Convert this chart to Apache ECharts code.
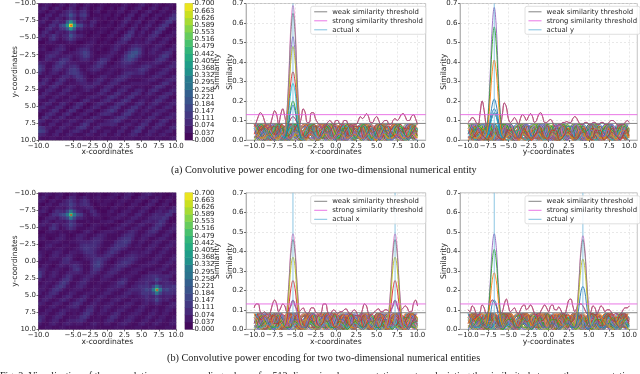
<!DOCTYPE html>
<html><head><meta charset="utf-8">
<style>html,body{margin:0;padding:0;background:#fff}#c{width:640px;height:374px}</style>
<script src="https://cdn.jsdelivr.net/npm/echarts@6/dist/echarts.min.js"></script>
</head><body><div id="c"></div>
<script>
// ---- data: similarity values, in hundredths ----
const coordTicks=[-10,-7.5,-5,-2.5,0,2.5,5,7.5,10];
const similarityTicks=[0,0.1,0.2,0.3,0.4,0.5,0.6,0.7];
const colorbarTicks=[0,0.037,0.074,0.111,0.147,0.184,0.221,0.258,0.295,0.332,0.368,0.405,0.442,0.479,0.516,0.553,0.589,0.626,0.663,0.7];
const weakThreshold=0.085, strongThreshold=0.13;
const actualA=[-5.25,-6.75];
const actualBX=[-5.25,7.25];
const actualBY=[-6.75,4.25];

const heatA=[
[3,4,5,4,2,3,5,4,2,5,6,3,2,4,5,3,2,3,4,3,2,3,3,2,4,5,3,2,3,5,6,3,2,4,5,3,2,3,4,3],
[4,6,5,2,4,6,4,2,4,7,5,2,4,6,4,2,3,5,4,2,3,4,2,4,6,4,2,3,5,6,3,2,4,6,4,2,4,5,3,2],
[5,4,2,4,5,3,3,5,7,9,6,4,7,8,4,2,4,5,2,2,4,3,3,5,5,2,3,5,5,2,3,5,6,3,2,4,5,3,3,5],
[3,2,5,6,3,3,6,6,8,14,9,5,9,10,5,2,3,3,3,4,4,2,4,4,2,3,6,6,2,3,6,5,2,3,5,5,3,3,5,8],
[3,5,6,3,3,6,5,3,6,10,7,3,6,7,3,3,5,4,3,4,2,3,4,2,3,6,7,3,2,5,5,2,3,5,5,2,3,5,9,9],
[5,6,3,3,6,7,5,5,22,36,22,5,6,4,3,6,6,3,3,2,3,4,2,3,5,7,4,3,5,6,2,3,5,5,2,3,5,9,9,4],
[4,3,3,7,8,5,11,14,36,68,36,13,12,6,4,7,4,2,3,3,4,3,2,4,6,4,2,4,6,3,3,5,6,3,3,6,9,8,3,2],
[2,3,6,8,5,4,8,9,22,36,22,6,7,4,3,4,3,3,4,4,3,2,4,5,4,2,4,7,5,2,5,6,3,3,6,9,8,3,2,3],
[3,6,7,4,3,6,5,4,6,9,7,3,4,3,3,2,3,4,4,3,2,4,5,3,2,4,8,8,3,4,6,3,3,6,9,7,3,2,3,5],
[5,7,4,6,9,6,4,6,7,14,9,6,6,4,2,3,4,4,2,2,4,5,3,2,4,8,10,6,3,5,4,3,6,8,7,3,2,4,5,4],
[5,3,3,7,9,5,3,5,7,10,7,4,4,3,3,4,4,3,2,3,4,3,2,4,7,9,7,3,4,4,3,5,7,6,3,3,5,6,4,2],
[2,2,4,5,4,3,3,3,4,5,4,2,2,3,4,5,4,2,3,4,3,2,4,6,7,6,3,3,5,4,4,6,5,3,3,5,6,4,2,3],
[3,4,3,3,3,4,6,5,3,3,3,3,4,5,6,5,3,3,4,3,3,4,6,6,4,3,4,6,7,6,5,4,3,4,6,6,4,2,3,5],
[4,5,3,2,4,6,7,6,3,2,3,5,7,8,7,4,3,4,3,2,3,5,7,5,3,3,6,9,11,9,5,3,4,6,6,4,3,4,6,5],
[3,3,4,5,6,7,5,3,3,4,5,6,8,11,9,5,3,2,3,3,4,6,5,3,3,6,10,13,14,10,5,3,5,6,4,4,6,8,7,3],
[2,3,6,8,7,5,4,5,6,6,4,5,7,10,9,5,3,3,4,5,6,5,3,3,5,9,13,14,11,7,4,3,4,4,4,7,10,9,5,2],
[3,4,7,6,4,4,7,9,8,5,3,4,6,7,6,4,3,5,8,8,6,3,2,4,7,10,12,10,7,4,3,3,3,4,7,9,8,5,3,3],
[6,5,4,3,4,7,10,9,6,5,5,4,4,4,4,3,5,8,9,7,3,2,4,5,7,8,8,6,4,3,4,5,5,6,7,6,4,3,4,6],
[9,7,3,3,6,9,9,6,5,7,8,6,3,3,4,5,7,9,7,4,3,4,5,5,6,6,5,4,4,5,7,8,7,5,4,3,3,5,7,6],
[10,7,3,4,7,8,6,4,6,9,10,8,4,3,5,6,7,6,4,3,4,5,4,3,4,5,5,5,6,8,9,7,4,3,3,4,6,7,5,3],
[7,4,3,5,6,5,3,4,7,9,10,9,6,4,3,4,4,3,3,4,5,4,3,3,5,7,8,7,6,7,7,4,3,3,5,7,7,5,3,3],
[3,3,5,5,3,3,5,7,7,5,7,9,8,5,3,2,3,4,6,6,4,3,4,6,8,8,6,4,4,4,4,3,4,6,7,6,4,3,4,6],
[3,6,7,4,2,5,8,7,4,3,4,7,8,6,3,3,5,7,7,4,3,5,7,8,7,5,3,3,3,3,4,5,6,6,4,3,4,6,7,6],
[6,8,5,3,5,8,7,4,3,4,4,5,6,6,5,5,7,7,4,3,5,7,7,5,3,3,4,5,5,5,5,5,4,3,3,5,8,8,5,3],
[6,4,3,6,8,6,3,3,5,6,5,3,4,6,7,7,5,3,3,6,7,6,3,3,5,6,6,4,3,4,4,3,3,5,8,8,6,3,3,4],
[3,3,6,7,5,3,3,6,7,5,3,3,4,5,6,4,3,3,6,8,6,3,3,6,7,6,3,3,6,7,5,3,6,8,7,4,3,3,5,6],
[3,6,6,4,3,4,6,6,4,3,4,5,4,3,3,3,4,6,7,5,3,4,7,8,5,3,4,7,8,6,3,5,7,5,3,3,5,7,7,4],
[6,6,3,3,5,6,4,3,3,5,6,4,3,3,5,6,6,5,3,4,7,9,7,4,3,5,8,8,4,3,4,5,4,3,4,7,8,6,3,2],
[4,3,3,6,6,3,3,4,5,5,3,2,4,7,7,4,3,3,5,7,8,5,3,4,7,9,7,3,3,5,6,4,3,5,8,8,5,3,3,5],
[3,5,7,6,3,3,6,7,4,2,4,7,8,5,2,3,5,7,7,5,3,3,6,8,8,5,3,3,6,8,6,3,5,7,7,4,3,4,6,6],
[6,7,4,3,4,7,7,4,2,4,7,8,5,2,3,5,7,6,3,3,5,7,9,7,3,3,5,8,9,5,3,5,7,5,3,3,5,7,6,3],
[5,3,3,5,8,7,3,2,5,8,7,3,2,4,6,6,3,2,4,6,8,10,7,3,3,6,9,9,5,3,5,6,4,3,5,6,6,4,3,3],
[2,3,6,8,6,3,3,6,8,5,2,3,5,6,4,2,3,5,7,8,7,5,3,3,6,9,9,5,3,4,5,3,3,6,7,5,3,3,5,6],
[3,7,8,5,3,4,7,6,3,3,4,6,5,3,3,5,7,6,4,3,3,4,6,8,9,7,4,3,4,5,3,4,7,7,4,3,4,6,7,5],
[7,6,3,3,5,6,4,3,4,6,6,4,3,5,7,7,4,3,3,5,6,7,9,8,5,3,3,5,5,3,5,7,6,3,3,6,8,6,3,3],
[5,3,3,6,6,3,3,5,6,5,3,3,6,9,7,3,3,5,6,6,6,7,6,3,3,5,6,4,3,5,8,7,3,3,6,8,6,3,3,5],
[9,8,5,5,3,3,6,6,4,3,4,7,9,8,4,3,6,7,4,3,3,4,3,3,6,6,3,3,6,9,7,3,3,6,7,5,3,3,6,7],
[11,10,6,3,3,6,6,3,3,5,7,7,5,3,3,6,6,3,3,5,5,3,3,6,6,3,3,6,9,8,3,3,6,6,4,3,4,6,6,3],
[7,6,4,3,5,6,3,3,5,6,4,3,3,4,6,5,3,3,5,6,3,3,5,6,3,3,5,7,6,3,3,5,6,4,3,5,6,4,3,3],
[4,3,3,4,4,3,3,4,4,3,3,4,4,3,3,3,3,4,4,3,3,4,4,3,3,4,4,4,3,3,4,4,3,3,4,4,3,3,4,5]];

const heatB=[
[3,4,5,4,3,4,5,3,2,4,5,3,2,3,4,3,3,4,3,2,3,4,5,4,3,5,6,4,2,3,5,6,6,4,3,4,3,2,3,4],
[4,6,4,2,3,5,4,2,4,7,6,3,4,6,4,3,4,5,3,3,4,5,4,2,4,6,5,2,3,5,6,5,3,3,5,4,2,3,4,3],
[5,4,2,4,5,3,3,5,7,9,6,4,6,8,6,3,3,4,3,4,4,3,3,4,5,4,3,3,5,5,3,2,4,6,5,2,3,5,4,2],
[3,2,4,5,3,3,6,6,7,11,8,5,7,8,7,4,2,3,4,4,3,2,4,5,4,2,3,5,5,3,2,4,6,5,2,3,5,5,2,3],
[3,5,5,3,3,5,5,4,6,9,6,4,5,5,6,6,3,2,3,3,2,4,5,3,3,3,5,5,3,3,5,6,4,2,3,5,5,3,4,6],
[5,6,4,2,5,8,7,6,16,28,16,6,5,3,4,7,6,3,2,2,4,5,3,2,4,5,5,3,3,5,6,4,2,3,5,6,4,5,8,7],
[4,3,2,5,8,8,11,13,28,48,28,12,10,5,3,5,7,5,3,3,4,3,3,5,6,5,3,3,6,7,4,3,4,6,7,6,6,9,8,3],
[2,3,5,6,6,4,7,8,16,28,16,6,6,4,3,3,4,4,3,2,3,4,5,5,4,3,4,6,6,4,3,4,6,7,7,7,9,7,3,2],
[3,5,6,4,3,5,5,4,6,9,7,3,3,3,4,3,3,3,4,4,5,5,3,2,3,5,6,5,3,3,5,6,6,5,6,9,8,4,2,3],
[5,6,4,5,8,6,4,6,7,11,8,5,5,3,2,4,5,4,3,4,3,2,3,4,6,6,4,3,4,6,6,4,3,5,8,9,6,3,3,5],
[4,3,3,7,9,6,3,4,6,8,6,3,3,3,4,5,4,3,2,2,3,4,5,6,5,3,3,5,6,5,3,3,5,8,9,6,3,3,5,6],
[2,2,4,5,4,3,4,3,3,4,3,2,3,5,6,4,2,3,4,5,5,5,4,3,3,4,6,7,5,3,3,5,7,8,6,3,3,5,6,4],
[3,4,3,3,3,3,5,5,3,2,3,5,6,5,3,3,4,6,6,5,3,3,3,3,5,7,8,7,4,3,5,6,6,5,3,3,5,6,4,2],
[4,5,3,2,3,5,6,5,3,3,4,6,6,4,3,5,7,7,6,4,3,3,3,6,8,9,9,6,3,4,6,5,3,3,4,6,6,4,3,3],
[3,3,4,4,5,5,4,3,3,4,4,5,6,6,6,7,8,7,5,3,3,3,6,8,9,10,8,4,3,5,5,3,3,5,6,5,3,3,5,5],
[2,3,5,6,4,3,3,4,4,3,3,4,7,8,8,8,8,6,4,3,3,5,8,9,9,8,5,3,4,5,3,3,5,6,5,3,3,5,6,4],
[3,4,5,4,3,4,5,4,3,3,4,5,7,9,9,8,7,5,3,3,5,8,9,8,6,5,3,3,4,4,3,5,6,5,3,3,5,6,4,3],
[5,4,3,3,5,6,5,3,3,5,5,4,5,7,8,8,6,4,3,5,7,9,7,5,3,3,4,5,5,4,5,6,5,3,3,5,6,4,3,3],
[6,4,2,4,6,6,4,4,6,6,4,3,3,5,6,7,7,5,5,7,8,6,4,3,3,5,6,7,6,5,5,4,3,3,5,6,4,3,3,5],
[5,3,3,5,5,4,4,7,8,6,3,2,3,4,5,6,8,9,8,7,5,3,3,5,6,7,8,8,6,4,3,3,3,5,6,5,3,3,5,6],
[3,3,4,4,3,3,5,7,7,5,5,5,4,3,3,6,9,11,8,5,3,2,4,6,8,9,8,6,4,3,3,4,5,6,5,3,3,5,6,4],
[3,5,5,3,2,4,6,5,4,6,8,7,5,3,3,6,10,11,7,4,3,4,6,8,8,7,5,3,3,4,5,5,5,4,3,3,5,6,4,3],
[6,6,4,3,4,5,4,3,3,5,8,9,6,3,3,6,9,8,5,3,4,6,7,7,5,3,3,4,5,5,4,3,3,3,4,5,6,4,3,4],
[9,6,3,4,6,5,3,3,5,6,6,6,5,3,4,7,7,5,3,4,6,7,6,4,3,3,4,5,5,3,2,3,5,5,5,5,3,3,5,5],
[10,5,3,5,6,4,3,5,8,7,4,3,4,5,6,6,4,3,4,6,6,5,3,3,4,5,5,4,3,3,5,6,7,8,8,6,6,7,6,3],
[5,3,4,5,4,3,5,8,9,6,3,3,5,7,6,4,3,3,5,5,4,3,3,5,7,7,4,3,3,5,6,7,7,8,12,8,6,6,4,3],
[3,4,5,4,3,5,8,10,7,3,3,5,7,7,4,3,3,4,4,3,3,4,5,8,9,6,3,3,5,6,6,8,6,5,8,5,6,7,6,5],
[4,5,4,3,5,8,10,8,4,3,4,6,7,5,3,3,4,4,3,3,4,5,6,7,6,4,3,5,6,8,8,9,7,16,28,16,7,8,8,9],
[5,5,3,5,8,9,7,4,3,4,5,5,5,3,3,4,5,4,3,4,6,6,5,4,3,4,6,7,7,7,9,12,10,28,49,28,10,12,9,8],
[5,3,4,7,8,6,3,3,4,6,5,3,3,4,5,5,4,3,4,6,6,4,3,3,4,6,7,5,5,6,9,9,8,16,28,16,7,8,8,7],
[3,4,6,7,5,3,3,5,7,6,3,3,5,7,5,3,3,5,6,5,3,3,4,5,6,6,4,3,4,5,6,8,6,6,9,6,5,6,6,4],
[4,6,6,4,3,4,6,7,5,3,4,6,8,6,3,3,5,6,4,3,3,5,6,6,4,3,3,5,5,4,5,7,6,7,12,7,5,6,4,3],
[6,5,3,3,5,6,5,3,3,5,7,8,6,3,3,5,6,4,3,4,5,6,4,3,3,5,6,5,3,3,5,6,4,5,7,5,3,3,5,6],
[4,3,3,5,6,4,3,3,5,6,7,6,3,3,6,7,5,3,4,6,6,4,3,4,5,6,5,3,3,5,6,4,3,3,4,3,3,5,6,5],
[3,3,5,5,3,3,5,6,5,4,4,4,3,5,8,8,4,3,5,6,4,3,4,6,6,4,3,3,5,6,5,3,3,5,5,3,4,6,5,3],
[4,5,5,3,3,5,7,6,3,3,4,3,5,8,9,6,3,4,5,4,3,5,7,6,3,3,4,5,6,5,3,3,5,6,4,3,5,5,3,3],
[7,6,3,3,5,7,6,3,3,4,4,5,8,9,6,3,3,4,3,3,5,8,7,4,3,4,6,6,4,3,3,5,6,4,3,5,5,3,3,4],
[8,5,3,4,6,6,3,3,5,6,6,7,8,6,3,3,4,4,3,5,7,7,4,3,4,6,7,5,3,3,5,6,4,3,5,6,4,3,4,5],
[5,3,3,5,6,4,3,5,6,5,4,5,5,3,3,5,6,4,3,5,5,3,3,5,6,6,4,3,3,5,6,4,3,5,6,4,3,3,5,5],
[3,3,4,4,3,3,4,4,3,3,3,3,3,3,4,4,4,3,3,3,3,3,4,4,4,3,3,3,4,4,3,3,4,4,3,3,3,4,4,3]];

// low-level curves that form the dense band (samples every 0.5)
const fillers=[
[6,2,0,4,7,3,0,2,6,5,1,0,5,7,2,0,3,7,5,1,1,6,6,2,0,4,7,3,0,3,6,5,1,1,5,7,3,0,3,6,4],
[3,7,4,0,2,7,6,1,1,5,8,3,0,3,7,6,1,1,5,7,3,0,3,7,5,1,1,6,7,2,0,3,7,5,1,2,6,6,1,1,5],
[8,4,0,3,8,4,0,4,8,2,1,6,7,1,1,7,6,0,3,8,3,0,5,8,2,1,7,6,0,3,8,4,0,5,7,1,2,8,5,0,6],
[1,5,8,3,0,5,8,2,0,7,6,0,3,8,3,0,6,7,1,2,7,5,0,4,8,2,1,7,5,0,5,8,2,1,7,5,0,4,7,3,1],
[2,0,3,5,2,0,2,5,3,0,1,4,5,1,0,3,5,2,0,2,5,3,0,1,5,4,0,1,4,5,1,0,3,5,2,0,2,5,3,0,3],
[4,3,0,1,4,4,1,0,3,5,2,0,2,5,3,0,1,4,4,1,0,3,5,2,0,3,5,1,0,2,5,3,0,2,5,3,0,1,4,4,2],
[5,1,1,6,3,0,4,5,0,2,6,2,0,5,4,0,2,6,2,1,5,4,0,3,6,1,1,5,4,0,3,6,1,1,6,3,0,4,5,1,2],
[7,8,3,1,6,8,2,1,6,8,3,0,5,8,4,0,4,8,5,1,2,7,7,1,1,6,8,3,0,5,8,4,0,4,8,5,0,3,8,6,3],
[0,3,6,2,0,4,6,1,0,5,5,1,1,6,3,0,3,6,2,0,5,5,0,2,6,3,0,3,6,2,0,5,5,0,2,6,3,0,4,6,1],
[2,1,2,3,1,1,3,2,1,2,3,1,1,3,2,0,2,3,1,1,3,2,1,2,3,1,1,3,2,0,2,3,1,1,3,2,1,2,3,1,0],
[6,8,5,2,4,8,7,2,3,8,7,1,2,7,8,3,1,6,8,4,1,5,8,5,1,4,8,6,1,3,8,7,2,2,7,8,3,1,6,8,5],
[8,5,7,8,3,3,8,6,1,5,8,4,1,6,8,2,3,8,6,1,5,8,3,2,7,7,1,4,8,5,1,6,8,3,2,8,6,1,4,8,6],
[1,2,4,2,1,3,4,1,1,4,3,1,2,4,2,1,3,4,1,1,4,3,0,2,4,2,1,3,4,1,1,4,3,0,2,4,2,1,3,4,2],
[3,6,7,5,7,6,3,6,8,7,4,6,8,5,4,7,8,4,5,8,7,3,6,8,5,4,7,8,4,5,8,7,3,6,8,5,4,7,8,4,3]];
const fillerStarts=[-10,-9.875,-9.75,-9.625];

// upper envelope of the side lobes (x from -10 to 10, every 0.25)
const envelopeAX=[7,9,12,14,13,10,7,6,8,12,15,13,8,13,16,12,8,9,11,12,11,9,8,11,16,14,9,9,14,14,11,9,8,6,7,8,9,10,9,8,10,10,8,8,10,10,8,7,7,8,8,10,12,11,12,13.5,12,9,9,11,12,10,8,9,10,10,8,8,10,11,10,11,13,13.5,12,10,10,12,13,11,8];
const envelopeAY=[9,10,11.5,11,9,8,14,20,15,8,7,9,12,14,12,9,8,13,19,17,11,9,10,11.5,10,8,11,13,12,10,12,13.5,12,9,10,13,14,12,9,9,10,10.5,9,7,7,8,8,9,9,9.5,9,9,11,12,11,9,8,8,9,9,8,8,9,9,8,8,9,9,8,8,9,10,10,9,8,7,8,8,9,10,9];
const envelopeBX=[11,13,13,9,8,9,8,7,9,13,15,13,9,11,13,12,9,10,12,15,12,10,9,10,11,9,8,9,11,11,9,8,7,9,13,13,9,7,9,10,9,8,9,9,10,10.5,9,8,9,10,9,7,7,10,13,12,8,7,8,9,10,10.5,9,9,10,10,9,10,12,15,12,10,10,11,12,11,9,9,13,15,12];
const envelopeBY=[10,9,12,11,8,7,9,12.5,11,8,9,13,15,14,12,9,8,9,13,15.5,12,9,10,11,9,8,10,12,12.5,10,11,12.5,11,8,7,7,9,11,12.5,11,9,12,12.5,10,10,11.5,10,8,8,11,15,15.5,12,9,11,13,13,12,10,8,7,9,12,11,8,10,12,11,9,10,10,9,7,8,8,7,8,10,11,11,12];

// main peaks: values at centre-1 ... centre+1, every 0.25
const peaksAX=[[3,14,34,59,69,59,34,14,3],[3,13,32,55,65,55,32,13,3],[2,11,27,45,53,45,27,11,2],[2,10,24,41,48,41,24,10,2],[2,7,18,30,35,30,18,7,2],[1,6,15,25,29,25,15,6,1],[1,4,10,17,20,17,10,4,1],[1,4,9,15,18,15,9,4,1]];
const peaksAY=[[3,14,34,58,68,58,34,14,3],[3,12,29,49,58,49,29,12,3],[2,8,21,35,41,35,21,8,2],[1,4,11,18,21,18,11,4,1],[1,3,8,14,16,14,8,3,1],[1,3,7,12,14,12,7,3,1]];
const peaksBX=[[3,10,24,42,49,42,24,10,3],[2,9,23,39,46,39,23,9,2],[2,7,18,32,37,32,18,7,2],[1,5,12,21,25,21,12,5,1],[1,3,8,13,15,13,8,3,1]];
const peaksBY1=[[3,10,24,42,49,42,24,10,3],[2,8,21,35,41,35,21,8,2],[1,6,15,25,29,25,15,6,1],[1,3,7,13,15,13,7,3,1]];
const peaksBY2=[[3,10,24,41,48,41,24,10,3],[2,9,23,39,46,39,23,9,2],[2,7,18,31,36,31,18,7,2],[1,4,11,19,22,19,11,4,1]];

// ---- styles ----
const tab10=['#1f77b4','#ff7f0e','#2ca02c','#d62728','#9467bd','#8c564b','#e377c2','#7f7f7f','#bcbd22','#17becf'];
const viridis=['#440154','#471365','#482475','#463480','#414287','#3b528b','#365c8d','#2c728e','#2a788e','#21918c','#1f9e89','#27ad81','#35b779','#4ec36b','#6ece58','#8fd744','#b5de2b','#d8e219','#fde725'];
const peakColorsAX=['#e377c2','#7f7f7f','#9467bd','#bcbd22','#d62728','#17becf','#2ca02c','#1f77b4'];
const peakColorsAY=['#9467bd','#2ca02c','#ff7f0e','#1f77b4','#1f77b4','#17becf'];
const peakColorsB=['#e377c2','#7f7f7f','#bcbd22','#d62728','#9467bd'];
const peakColorsBY1=['#9467bd','#2ca02c','#ff7f0e','#1f77b4'];
const peakColorsBY2=['#e377c2','#7f7f7f','#bcbd22','#1f77b4'];
const WEAK='weak similarity threshold', STRONG='strong similarity threshold';
const txt='#262626', FS=7, NS=7.6;
const fmtCoord=v=>v.toFixed(1).replace('-','\u2212');
// the grid values were estimated in relative tones; the lobe tones are mapped onto the colour bar's scale here
const heatValue=v=>v<=14?(v-1)*1.5/100:v/100;

const grids=[],xAxes=[],yAxes=[],series=[],legends=[];
const heatSeries=[];
const hidden=(g,data,extra)=>Object.assign({type:'category',gridIndex:g,show:false,data,boundaryGap:true},extra||{});
const band=Array.from({length:40},(_,i)=>i);
function addGrid(l,t,r,b){grids.push({left:l,top:t,width:r-l,height:b-t,show:true,borderColor:'#c4c4c4',borderWidth:1,backgroundColor:'#fff'});return grids.length-1;}
const tickStyle={show:true,length:2,lineStyle:{color:'#333',width:.7}};
const lineStyleAxis={show:true,onZero:false,lineStyle:{color:'#b5b5b5',width:1}};
function valueAxis(g,dim,name,opts,gap){
  return Object.assign({type:'value',gridIndex:g,name,nameLocation:'middle',nameGap:gap,nameMoveOverlap:false,
    nameTextStyle:{fontFamily:'DejaVu Sans',fontSize:NS,color:txt},
    axisLine:lineStyleAxis,axisTick:tickStyle,
    axisLabel:{fontFamily:'DejaVu Sans',fontSize:FS,color:txt,margin:2.5,hideOverlap:false},
    splitLine:{show:false}},opts);
}
function heatPanel(top,bottom,rows,markX,markY){
  const g=addGrid(38.5,top,176,bottom);
  const xCat=xAxes.length;xAxes.push(hidden(g,band));
  const yCat=yAxes.length;yAxes.push(hidden(g,band,{inverse:true}));
  const xVal=xAxes.length;
  xAxes.push(valueAxis(g,'x','x-coordinates',{min:-10,max:10,interval:2.5,position:'bottom',
    axisLabel:{fontFamily:'DejaVu Sans',fontSize:FS,color:txt,margin:2.5,formatter:fmtCoord,showMinLabel:true,showMaxLabel:true}},8.5));
  const yVal=yAxes.length;
  yAxes.push(valueAxis(g,'y','y-coordinates',{min:-10,max:10,interval:2.5,inverse:true,position:'left',
    axisLabel:{fontFamily:'DejaVu Sans',fontSize:FS,color:txt,margin:2.5,formatter:fmtCoord}},19.5));
  const data=[];rows.forEach((r,j)=>r.forEach((v,i)=>data.push([i,j,heatValue(v)])));
  heatSeries.push(series.length);
  series.push({type:'heatmap',name:'heat',xAxisIndex:xCat,yAxisIndex:yCat,data,silent:true,progressive:0,emphasis:{disabled:true}});
  series.push({type:'scatter',name:'marker',xAxisIndex:xVal,yAxisIndex:yVal,data:markX.map((x,i)=>[x,markY[i]]),symbolSize:2.2,itemStyle:{color:'#e8402a'},silent:true,z:5});
  // colour bar
  const c=addGrid(185,top,192.5,bottom);
  const cx=xAxes.length;xAxes.push(hidden(c,['c']));
  const cy=yAxes.length;yAxes.push(hidden(c,viridis.map((_,i)=>i)));
  yAxes.push(valueAxis(c,'y','Similarity',{min:0,max:.7,position:'right',nameRotate:90,
    axisTick:Object.assign({},tickStyle,{customValues:colorbarTicks}),
    axisLabel:{fontFamily:'DejaVu Sans',fontSize:FS,color:txt,margin:2,customValues:colorbarTicks,formatter:v=>v.toFixed(3),hideOverlap:false}},20.5));
  heatSeries.push(series.length);
  series.push({type:'heatmap',name:'bar',xAxisIndex:cx,yAxisIndex:cy,silent:true,emphasis:{disabled:true},progressive:0,
    data:viridis.map((_,i)=>[0,i,(colorbarTicks[i]+colorbarTicks[i+1])/2])});
}
function linePanel(left,right,top,bottom,axisChar,envelope,peakGroups,actuals,perm,lg){
  const g=addGrid(left,top,right,bottom);
  const xi=xAxes.length, yi=yAxes.length;
  const split={show:true,lineStyle:{color:'#dedede',width:.7,type:[2,2]}};
  xAxes.push(valueAxis(g,'x',axisChar+'-coordinates',{min:-11,max:11,position:'bottom',
    axisTick:Object.assign({},tickStyle,{customValues:coordTicks}),
    axisLabel:{fontFamily:'DejaVu Sans',fontSize:FS,color:txt,margin:2.5,customValues:coordTicks,formatter:fmtCoord},
    splitLine:split},8.5));
  yAxes.push(valueAxis(g,'y','Similarity',{min:0,max:.7,interval:.1,position:'left',
    axisLabel:{fontFamily:'DejaVu Sans',fontSize:FS,color:txt,margin:2.5,formatter:v=>v.toFixed(1)},
    splitLine:split},12));
  const add=(name,data,color,width,smooth,opacity,z)=>series.push({type:'line',name,xAxisIndex:xi,yAxisIndex:yi,data,symbol:'none',smooth:smooth?0.4:false,
    lineStyle:{color,width,opacity:opacity==null?1:opacity},itemStyle:{color},silent:true,z:z||2,clip:false,animation:false,emphasis:{disabled:true}});
  let n=0;
  fillerStarts.forEach(start=>perm.forEach(k=>{
    const pts=fillers[k].map((v,i)=>[start+i*.5,v/100]).filter(p=>p[0]<=10);
    add('f'+g+'_'+n,pts,tab10[n%10],.8,true);n++;
  }));
  add('envb'+g,envelope.map((v,i)=>[-10+i*.25,v/100]),'#d62728',1,true);
  add('env'+g,envelope.map((v,i)=>[-10+i*.25,v/100]),'#9467bd',.9,true,.7);
  peakGroups.forEach((pg,pi)=>pg.rows.forEach((r,ri)=>{
    add('p'+g+'_'+pi+'_'+ri,r.map((v,i)=>[pg.c-1+i*.25,v/100]),pg.colors[ri],.9,true);
  }));
  add(WEAK,[[-11,weakThreshold],[11,weakThreshold]],'#6e6e6e',1,false,.85,3);
  add(STRONG,[[-11,strongThreshold],[11,strongThreshold]],'#e55fe0',1,false,.85,3);
  const actName='actual '+axisChar;
  actuals.forEach(c=>add(actName,[[c,0],[c,.7]],'#5fb0d8',.9,false,.8,3));
  legends.push({show:true,left:lg,top:top+3,orient:'vertical',padding:[2,3,1,3],itemGap:2,itemWidth:13,itemHeight:8,
    itemStyle:{opacity:0},lineStyle:{width:1},
    data:[WEAK,STRONG,actName],selectedMode:false,backgroundColor:'rgba(255,255,255,.85)',borderColor:'#d8d8d8',borderWidth:.8,borderRadius:2,
    textStyle:{fontFamily:'DejaVu Sans',fontSize:6.9,color:txt}});
}
const TA=3.3,BA=140,TB=192.8,BB=329.3;
heatPanel(TA,BA,heatA,[actualA[0]],[actualA[1]]);
linePanel(246,425.7,TA,BA,'x',envelopeAX,[{c:actualA[0],rows:peaksAX,colors:peakColorsAX}],[actualA[0]],[0,1,2,3,4,5,6,7,8,9,10,11,12,13],310.7);
linePanel(460,639.3,TA,BA,'y',envelopeAY,[{c:actualA[1],rows:peaksAY,colors:peakColorsAY}],[actualA[1]],[3,0,5,1,7,2,9,4,11,6,13,8,10,12],525);
heatPanel(TB,BB,heatB,actualBX,actualBY);
linePanel(246,425.7,TB,BB,'x',envelopeBX,actualBX.map(c=>({c,rows:peaksBX,colors:peakColorsB})),actualBX,[1,2,3,0,6,5,4,9,8,7,12,11,10,13],310.7);
linePanel(460,639.3,TB,BB,'y',envelopeBY,[{c:actualBY[0],rows:peaksBY1,colors:peakColorsBY1},{c:actualBY[1],rows:peaksBY2,colors:peakColorsBY2}],actualBY,[2,3,0,1,5,7,4,6,9,11,8,13,12,10],525);

const captionStyle={fontFamily:'Liberation Serif',fill:'#1a1a1a'};
const cap=(text,x,y,size)=>({type:'text',left:x,top:y,silent:true,style:Object.assign({},captionStyle,{text,fontSize:size})});

const chart=echarts.init(document.getElementById('c'),null,{renderer:'canvas',width:640,height:374});
chart.setOption({
  animation:false,backgroundColor:'#fff',
  grid:grids,xAxis:xAxes,yAxis:yAxes,series,legend:legends,
  visualMap:{show:false,type:'continuous',min:0,max:.7,seriesIndex:heatSeries,dimension:2,inRange:{color:viridis}},
  graphic:[
    cap('(a) Convolutive power encoding for one two-dimensional numerical entity',171,165,10.25),
    cap('(b) Convolutive power encoding for two two-dimensional numerical entities',167,353,10.25),
    cap('Fig. 2: Visualization of the convolutive power encoding scheme for 512-dimensional representation vectors depicting the similarity between the representation',0,371,10)
  ]
});
</script></body></html>
